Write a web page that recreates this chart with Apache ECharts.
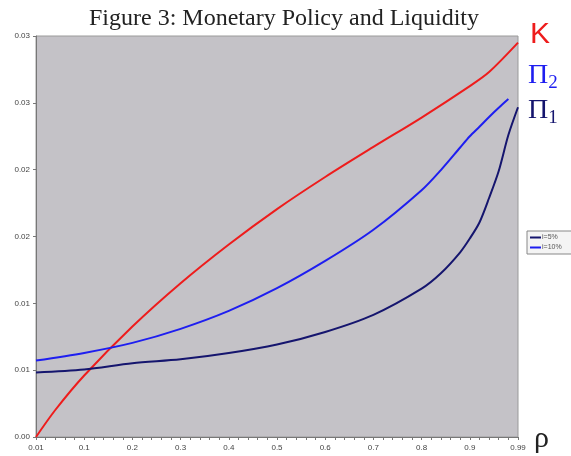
<!DOCTYPE html>
<html>
<head>
<meta charset="utf-8">
<script src="https://cdn.jsdelivr.net/npm/echarts@6/dist/echarts.min.js"></script>
<style>
  html, body { margin: 0; padding: 0; background: #fff; }
  #chart { width: 571px; height: 456px; }
</style>
</head>
<body>
<div id="chart"></div>
<script>
// rho grid used as category axis
var categories = ["0.01", "0.02", "0.04", "0.06", "0.08", "0.1", "0.12", "0.14", "0.16", "0.18",
    "0.2", "0.22", "0.24", "0.26", "0.28", "0.3", "0.32", "0.34", "0.36", "0.38",
    "0.4", "0.42", "0.44", "0.46", "0.48", "0.5", "0.52", "0.54", "0.56", "0.58",
    "0.6", "0.62", "0.64", "0.66", "0.68", "0.7", "0.72", "0.74", "0.76", "0.78",
    "0.8", "0.82", "0.84", "0.86", "0.88", "0.9", "0.92", "0.94", "0.96", "0.98", "0.99"];

// K curve (red)
var kRho = ["0.01", "0.04", "0.1", "0.2", "0.3", "0.4", "0.5", "0.6", "0.7", "0.8", "0.9", "0.94", "0.99"];
var kValues = [0, 0.00202, 0.0046, 0.00826, 0.0115, 0.0144, 0.01705, 0.01945, 0.0217, 0.0239, 0.02625, 0.0273, 0.0295];

// Pi2, i=10% (blue)
var pi2Rho = ["0.01", "0.1", "0.2", "0.3", "0.4", "0.5", "0.6", "0.7", "0.8", "0.84", "0.88", "0.9", "0.92", "0.94", "0.96", "0.98"];
var pi2Values = [0.00572, 0.00629, 0.00704, 0.00809, 0.00943, 0.01113, 0.01317, 0.0155, 0.01846, 0.01997, 0.02166, 0.0225, 0.02321, 0.02394, 0.02463, 0.02528];

// Pi1, i=5% (navy)
var pi1Rho = ["0.01", "0.1", "0.2", "0.3", "0.4", "0.5", "0.6", "0.7", "0.8", "0.84", "0.88", "0.9", "0.92", "0.94", "0.96", "0.98", "0.99"];
var pi1Values = [0.00483, 0.00505, 0.00552, 0.00581, 0.00628, 0.00692, 0.00786, 0.00914, 0.0111, 0.01225, 0.01382, 0.01485, 0.01605, 0.01788, 0.0199, 0.02259, 0.02467];

// y tick labels as printed (rounded to 2 decimals)
var yTickLabels = ["0.00", "0.01", "0.01", "0.02", "0.02", "0.03", "0.03"];

function pairs(xs, ys) {
    return xs.map(function (x, i) { return [x, ys[i]]; });
}

var myChart = echarts.init(document.getElementById("chart"));

var option = {
    animation: false,
    title: {
        text: "Figure 3: Monetary Policy and Liquidity",
        left: 279,
        textAlign: "center",
        top: 2,
        textStyle: {
            fontFamily: "Liberation Serif",
            fontWeight: "normal",
            fontSize: 24,
            color: "#222",
        },
    },
    legend: {
        data: ["i=5%", "i=10%"],
        orient: "vertical",
        left: 527,
        top: 231,
        itemWidth: 11,
        itemHeight: 2,
        itemGap: 3,
        padding: [3, 14, 3, 3],
        backgroundColor: "#f4f4f4",
        borderColor: "#888",
        borderWidth: 1,
        borderRadius: 0,
        icon: "rect",
        textStyle: {
            fontFamily: "Liberation Sans",
            fontSize: 7,
            color: "#555",
            padding: [0, 0, 0, -4],
        },
    },
    grid: {
        left: 36,
        top: 36,
        right: 53,
        bottom: 19,
        show: true,
        backgroundColor: "#c4c2c7",
        borderColor: "#9a9a9a",
        borderWidth: 1,
    },
    xAxis: {
        type: "category",
        data: categories,
        boundaryGap: false,
        axisLine: { lineStyle: { color: "#777", width: 1 } },
        axisTick: { interval: 0, length: 3, lineStyle: { color: "#777" } },
        axisLabel: {
            interval: 4,
            margin: 7,
            fontFamily: "Liberation Sans",
            fontSize: 8,
            color: "#444",
        },
        splitLine: { show: false },
    },
    yAxis: {
        type: "value",
        min: 0,
        max: 0.03,
        interval: 0.005,
        axisLine: { show: true, lineStyle: { color: "#777", width: 1 } },
        axisTick: { show: true, length: 3, lineStyle: { color: "#777" } },
        axisLabel: {
            margin: 6,
            fontFamily: "Liberation Sans",
            fontSize: 8,
            color: "#444",
            formatter: function (v) {
                return yTickLabels[Math.round(v / 0.005)];
            },
        },
        splitLine: { show: false },
    },
    series: [
        {
            name: "K",
            type: "line",
            data: pairs(kRho, kValues),
            smooth: 0.3,
            showSymbol: false,
            lineStyle: { color: "#ee1c1c", width: 2 },
            itemStyle: { color: "#ee1c1c" },
        },
        {
            name: "i=10%",
            type: "line",
            data: pairs(pi2Rho, pi2Values),
            smooth: 0.3,
            showSymbol: false,
            lineStyle: { color: "#1e1ef0", width: 2 },
            itemStyle: { color: "#1e1ef0" },
        },
        {
            name: "i=5%",
            type: "line",
            data: pairs(pi1Rho, pi1Values),
            smooth: 0.3,
            showSymbol: false,
            lineStyle: { color: "#15156e", width: 2 },
            itemStyle: { color: "#15156e" },
        },
    ],
    graphic: [
        {
            type: "text",
            left: 530,
            top: 20,
            style: {
                text: "K",
                fontFamily: "Liberation Sans",
                fontSize: 30,
                fill: "#ee1c1c",
            },
        },
        {
            type: "text",
            left: 528,
            top: 62,
            style: {
                text: "{p|Π}{s|2}",
                rich: {
                    p: { fontFamily: "Liberation Serif", fontSize: 28, fill: "#1e1ef0" },
                    s: { fontFamily: "Liberation Serif", fontSize: 19, fill: "#1e1ef0", padding: [14, 0, 0, 0] },
                },
            },
        },
        {
            type: "text",
            left: 528,
            top: 97,
            style: {
                text: "{p|Π}{s|1}",
                rich: {
                    p: { fontFamily: "Liberation Serif", fontSize: 28, fill: "#15156e" },
                    s: { fontFamily: "Liberation Serif", fontSize: 19, fill: "#15156e", padding: [14, 0, 0, 0] },
                },
            },
        },
        {
            type: "text",
            left: 534,
            top: 424,
            style: {
                text: "ρ",
                fontFamily: "Liberation Serif",
                fontSize: 30,
                fill: "#222",
            },
        },
    ],
};
myChart.setOption(option);
</script>
</body>
</html>
